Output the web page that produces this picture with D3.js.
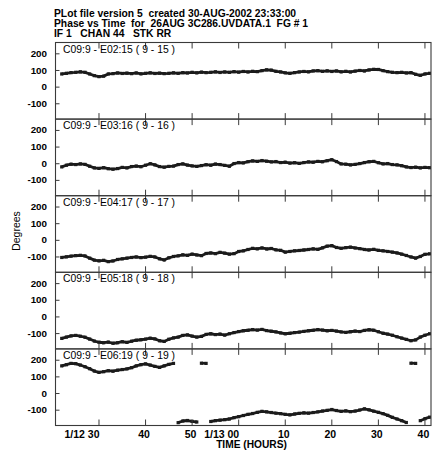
<!DOCTYPE html>
<html>
<head>
<meta charset="utf-8">
<script src="https://cdn.jsdelivr.net/npm/d3@7"></script>
<style>
	body { margin: 0; background: #fff; }
	svg { display: block; font-family: 'Liberation Sans', Arial, Helvetica, sans-serif; }
	text { white-space: pre; }
</style>
</head>
<body>
<div id="chart"></div>
<script>

var titleLines = [
	'PLot file version 5  created 30-AUG-2002 23:33:00',
	'Phase vs Time  for  26AUG 3C286.UVDATA.1  FG # 1',
	'IF 1   CHAN 44   STK RR'
];

var baselineLabels = [
	'C09:9 - E02:15 ( 9 - 15 )',
	'C09:9 - E03:16 ( 9 - 16 )',
	'C09:9 - E04:17 ( 9 - 17 )',
	'C09:9 - E05:18 ( 9 - 18 )',
	'C09:9 - E06:19 ( 9 - 19 )'
];

// sample times, same units as the axis (1/13 00 = 60)
var times = [
	22, 23, 24, 25, 26, 27, 28, 29, 30, 31, 32, 33, 34, 35, 36, 37, 38, 39, 40, 41,
	42, 43, 44, 45, 46, 47, 48, 49, 50, 51, 52, 53, 54, 55, 56, 57, 58, 59, 60, 61,
	62, 63, 64, 65, 66, 67, 68, 69, 70, 71, 72, 73, 74, 75, 76, 77, 78, 79, 80, 81,
	82, 83, 84, 85, 86, 87, 88, 89, 90, 91, 92, 93, 94, 95, 96, 97, 98, 99, 100, 101
];

// phase in degrees, one array per baseline
var phase915 = [
	76, 80, 84, 86, 89, 86, 76, 66, 60, 63, 76, 78, 82, 79, 81, 78, 82, 77, 80, 83,
	79, 81, 78, 80, 83, 80, 84, 82, 86, 83, 87, 84, 86, 89, 85, 88, 86, 90, 87, 91,
	88, 92, 90, 96, 101, 99, 92, 88, 83, 80, 84, 88, 91, 89, 94, 96, 92, 95, 91, 94,
	89, 92, 88, 93, 97, 94, 100, 104, 103, 96, 90, 86, 84, 86, 82, 84, 74, 68, 76, 80
];

var phase916 = [
	-22, -12, -6, -8, -4, -7, -18, -28, -31, -27, -33, -36, -32, -25, -28, -20, -17, -21, -12, -3,
	-10, -20, -24, -19, -17, -8, -4, -11, -16, -19, -14, -9, -12, -5, -8, -13, -18, -2, 4, 2,
	9, 14, 11, 16, 12, 8, 10, 4, 6, 1, 3, -1, 4, 8, 6, 11, 9, 15, 21, 10,
	-4, -6, -10, -7, -2, 4, 9, 11, 3, -4, -2, -8, -10, -15, -22, -26, -24, -28, -25, -27
];

var phase917 = [
	-106, -102, -98, -95, -93, -97, -110, -122, -126, -123, -131, -127, -118, -114, -110, -106, -103, -107, -104, -99,
	-103, -114, -121, -108, -100, -96, -90, -93, -86, -91, -95, -82, -79, -83, -75, -80, -86, -83, -70, -66,
	-58, -51, -54, -49, -55, -52, -60, -63, -74, -70, -66, -64, -61, -58, -54, -57, -48, -38, -35, -46,
	-51, -47, -44, -49, -53, -58, -61, -57, -63, -66, -70, -74, -79, -86, -94, -103, -110, -100, -87, -84
];

var phase918 = [
	-132, -124, -117, -114, -119, -125, -136, -148, -155, -158, -154, -161, -158, -152, -156, -149, -143, -140, -136, -131,
	-135, -146, -150, -137, -129, -124, -114, -111, -118, -124, -120, -108, -104, -109, -106, -112, -104, -97, -91, -86,
	-83, -79, -82, -78, -85, -89, -93, -99, -104, -101, -97, -94, -90, -86, -83, -79, -82, -86, -84, -88,
	-93, -96, -92, -88, -91, -84, -80, -83, -92, -101, -106, -113, -122, -130, -138, -146, -141, -124, -113, -104
];

var phase919 = [
	163, 170, 178, 176, 168, 158, 146, 132, 124, 128, 134, 131, 137, 141, 145, 152, 163, 170, 175, 168,
	160, 154, 163, 172, 178, -178, -168, -165, -170, -174, 179, 178, -171, -166, -163, -160, -156, -148, -142, -135,
	-128, -123, -116, -110, -113, -117, -121, -124, -128, -131, -126, -122, -119, -121, -117, -113, -108, -104, -99, -105,
	-110, -107, -112, -108, -102, -95, -101, -109, -116, -124, -134, -146, -156, -166, -177, 179, 178, -166, -154, -145
];

var series = [ phase915, phase916, phase917, phase918, phase919 ];

var xTicks = [ 30, 40, 50, 60, 70, 80, 90, 100 ];
var xTickLabels = [ '1/12 30', '40', '50', '1/13 00', '10', '20', '30', '40' ];
var yTicks = [ 200, 100, 0, -100 ];
var yTickLabels = [ '200', '100', '0', '-100' ];

var chart = {
	width: 432,
	height: 452,
	left: 55.5,
	right: 431,
	top: 42.5,
	panelHeight: 76.6,
	tick: 6
};

var svg = d3.select( '#chart' ).append( 'svg' )
	.attr( 'width', chart.width )
	.attr( 'height', chart.height );

var x = d3.scaleLinear()
	.domain( [ 20.66, 101.3 ] )
	.range( [ chart.left, chart.right ] );

var y = d3.scaleLinear()
	.domain( [ -195, 265 ] )
	.range( [ chart.panelHeight, 0 ] );

// header
svg.append( 'g' ).selectAll( 'text' )
	.data( titleLines )
	.enter().append( 'text' )
	.attr( 'x', 54 )
	.attr( 'y', function ( d, i ) { return 16.8 + i * 9.9; } )
	.style( 'font-size', '10.3px' )
	.style( 'font-weight', 'bold' )
	.text( function ( d ) { return d; } );

var line = d3.line()
	.x( function ( d ) { return x( d.t ); } )
	.y( function ( d ) { return y( d.v ); } );

// split where the phase wraps round +-180
function segments( values ) {
	var out = [];
	var cur = [];
	values.forEach( function ( v, i ) {
		if ( cur.length && Math.abs( v - cur[cur.length - 1].v ) > 180 ) {
			out.push( cur );
			cur = [];
		}
		cur.push( { t: times[i], v: v } );
	} );
	out.push( cur );
	return out;
}

series.forEach( function ( values, p ) {

	var g = svg.append( 'g' )
		.attr( 'transform', 'translate(0,' + ( chart.top + p * chart.panelHeight ) + ')' );

	svg.append( 'clipPath' )
		.attr( 'id', 'clip' + p )
		.append( 'rect' )
		.attr( 'x', chart.left )
		.attr( 'y', 0 )
		.attr( 'width', chart.right - chart.left )
		.attr( 'height', chart.panelHeight );

	var marks = g.append( 'g' ).attr( 'clip-path', 'url(#clip' + p + ')' );

	marks.selectAll( 'path' )
		.data( segments( values ) )
		.enter().append( 'path' )
		.attr( 'd', line )
		.style( 'fill', 'none' )
		.style( 'stroke', '#1b1b1b' )
		.style( 'stroke-width', 2.8 )
		.style( 'stroke-linejoin', 'round' );

	marks.selectAll( 'rect' )
		.data( values )
		.enter().append( 'rect' )
		.attr( 'x', function ( d, i ) { return x( times[i] ) - 1.6; } )
		.attr( 'y', function ( d ) { return y( d ) - 1.6; } )
		.attr( 'width', 3.2 )
		.attr( 'height', 3.2 )
		.style( 'fill', '#1b1b1b' );

	// frame
	g.append( 'rect' )
		.attr( 'x', chart.left )
		.attr( 'y', 0 )
		.attr( 'width', chart.right - chart.left )
		.attr( 'height', chart.panelHeight )
		.style( 'fill', 'none' )
		.style( 'stroke', '#3a3a3a' )
		.style( 'stroke-width', 1.1 );

	// time ticks, top and bottom, pointing inwards
	g.append( 'g' ).selectAll( 'line' )
		.data( xTicks )
		.enter().append( 'line' )
		.attr( 'x1', function ( d ) { return x( d ); } )
		.attr( 'x2', function ( d ) { return x( d ); } )
		.attr( 'y1', 0 )
		.attr( 'y2', chart.tick )
		.style( 'stroke', '#3a3a3a' );

	g.append( 'g' ).selectAll( 'line' )
		.data( xTicks )
		.enter().append( 'line' )
		.attr( 'x1', function ( d ) { return x( d ); } )
		.attr( 'x2', function ( d ) { return x( d ); } )
		.attr( 'y1', chart.panelHeight )
		.attr( 'y2', chart.panelHeight - chart.tick )
		.style( 'stroke', '#3a3a3a' );

	// phase axis
	var yAxis = d3.axisRight( y )
		.tickValues( yTicks )
		.tickSize( 4 )
		.tickFormat( '' );

	g.append( 'g' )
		.attr( 'transform', 'translate(' + chart.left + ',0)' )
		.call( yAxis )
		.call( function ( a ) {
			a.select( '.domain' ).remove();
			a.selectAll( 'line' ).style( 'stroke', '#3a3a3a' );
		} );

	g.append( 'g' ).selectAll( 'text' )
		.data( yTicks )
		.enter().append( 'text' )
		.attr( 'x', 47 )
		.attr( 'y', function ( d ) { return y( d ); } )
		.attr( 'dy', '0.36em' )
		.attr( 'text-anchor', 'end' )
		.style( 'font-size', '9.8px' )
		.style( 'font-weight', 'bold' )
		.text( function ( d, i ) { return yTickLabels[i]; } );

	g.append( 'text' )
		.attr( 'x', 63 )
		.attr( 'y', 10 )
		.style( 'font-size', '10.4px' )
		.text( baselineLabels[p] );

} );

var bottom = chart.top + series.length * chart.panelHeight;

svg.append( 'g' ).selectAll( 'text' )
	.data( xTicks )
	.enter().append( 'text' )
	.attr( 'x', function ( d, i ) {
		return xTickLabels[i].length > 2 ? x( d ) + 0.5 : x( d ) - 1.5;
	} )
	.attr( 'y', bottom + 12 )
	.attr( 'text-anchor', function ( d, i ) { return xTickLabels[i].length > 2 ? 'end' : 'middle'; } )
	.style( 'font-size', '10.5px' )
	.style( 'font-weight', 'bold' )
	.text( function ( d, i ) { return xTickLabels[i]; } );

svg.append( 'text' )
	.attr( 'x', 251.5 )
	.attr( 'y', bottom + 22 )
	.attr( 'text-anchor', 'middle' )
	.style( 'font-size', '10.2px' )
	.style( 'font-weight', 'bold' )
	.text( 'TIME (HOURS)' );

svg.append( 'text' )
	.attr( 'transform', 'translate(19.5,231) rotate(-90)' )
	.attr( 'text-anchor', 'middle' )
	.style( 'font-size', '10.5px' )
	.text( 'Degrees' );

</script>
</body>
</html>
